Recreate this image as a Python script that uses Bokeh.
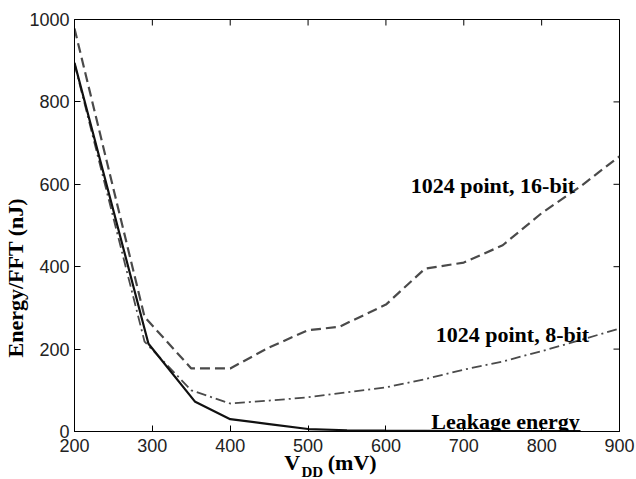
from bokeh.plotting import figure
from bokeh.models import Range1d, FixedTicker, Label
from bokeh.embed import file_html
from bokeh.resources import INLINE
import math

# Data
vdd_16 = [200, 290, 350, 400, 450, 500, 540, 600, 650, 700, 750, 800, 850, 900]
e_16 = [978, 278, 153, 153, 204, 246, 254, 308, 395, 410, 452, 530, 595, 668]

vdd_8 = [200, 290, 350, 400, 450, 500, 550, 600, 650, 700, 750, 800, 850, 900]
e_8 = [893, 218, 100, 68, 75, 83, 95, 107, 127, 150, 170, 195, 222, 250]

vdd_leak = [200, 295, 355, 400, 450, 500, 550, 600, 700, 850]
e_leak = [895, 213, 72, 30, 18, 6, 3, 2, 1, 1]

x_ticks = [200, 300, 400, 500, 600, 700, 800, 900]
y_ticks = [0, 200, 400, 600, 800, 1000]
x_min, x_max = 200, 900
y_min, y_max = 0, 1000

label_16 = "1024 point, 16-bit"
label_8 = "1024 point, 8-bit"
label_leak = "Leakage energy"

NB = "\u00a0"
y_title = "Energy/FFT (nJ)"
x_title_main = "V"
x_title_sub = "DD"
x_title_unit = "(mV)"

SERIF = "Liberation Serif"
SANS = "Liberation Sans"

p = figure(width=636, height=479, output_backend="svg", toolbar_location=None,
           x_range=Range1d(x_min, x_max), y_range=Range1d(y_min, y_max),
           min_border_left=73, min_border_right=17, min_border_top=19, min_border_bottom=48)
p.grid.visible = False
p.outline_line_color = "black"
p.outline_line_width = 1
p.background_fill_color = "white"
p.border_fill_color = "white"

for ax in (p.xaxis[0], p.yaxis[0]):
    ax.major_tick_in = 6
    ax.major_tick_out = 0
    ax.major_tick_line_width = 1
    ax.minor_tick_line_color = None
    ax.axis_line_color = "black"
    ax.major_tick_line_color = "black"
    ax.major_label_text_font = SANS
    ax.major_label_text_font_size = "18px"
    ax.major_label_text_color = "#222222"
    ax.axis_label_text_font = SERIF
    ax.axis_label_text_font_style = "bold"
    ax.axis_label_text_color = "black"

p.xaxis.ticker = FixedTicker(ticks=x_ticks)
p.yaxis.ticker = FixedTicker(ticks=y_ticks)
p.xaxis.major_label_standoff = 7
p.yaxis.major_label_standoff = 5

# axis titles (padding shifts them off-centre as in the reference)
p.yaxis.axis_label = y_title + NB * 19
p.yaxis.axis_label_text_font_size = "22px"
p.yaxis.axis_label_standoff = -2
p.xaxis.axis_label = x_title_main + NB * 5 + x_title_unit + NB * 6
p.xaxis.axis_label_text_font_size = "22px"
p.xaxis.axis_label_standoff = -5

# subscript "DD" of V_DD, placed via the top side panel (not clipped)
p.add_layout(Label(x=227, y=-452, x_units="screen", y_units="screen", text=x_title_sub,
                   text_align="left", text_baseline="alphabetic",
                   text_font=SERIF, text_font_style="bold", text_font_size="15px",
                   text_color="black"), "above")

# mirrored inward ticks on the top and right edges (clipped to the frame)
p.scatter(x_ticks, [y_max] * len(x_ticks), marker="dash", angle=math.pi / 2, size=12,
          line_color="black", line_width=1)
p.scatter([x_max] * len(y_ticks), y_ticks, marker="dash", size=12,
          line_color="black", line_width=1)

# curves
p.line(vdd_16, e_16, line_color="#4a4a4a", line_width=2.2, line_dash="10 5")
p.line(vdd_8, e_8, line_color="#4a4a4a", line_width=1.8, line_dash="10 4 2 4")
p.line(vdd_leak, e_leak, line_color="#111111", line_width=2.2)

# curve annotations
for txt, x, y in ((label_16, 843, 597), (label_8, 861, 235), (label_leak, 849, 25)):
    p.add_layout(Label(x=x, y=y, text=txt, text_align="right", text_baseline="alphabetic",
                       text_font=SERIF, text_font_style="bold", text_font_size="22px",
                       text_color="black"))

open("out.html", "w").write(file_html(p, INLINE))
